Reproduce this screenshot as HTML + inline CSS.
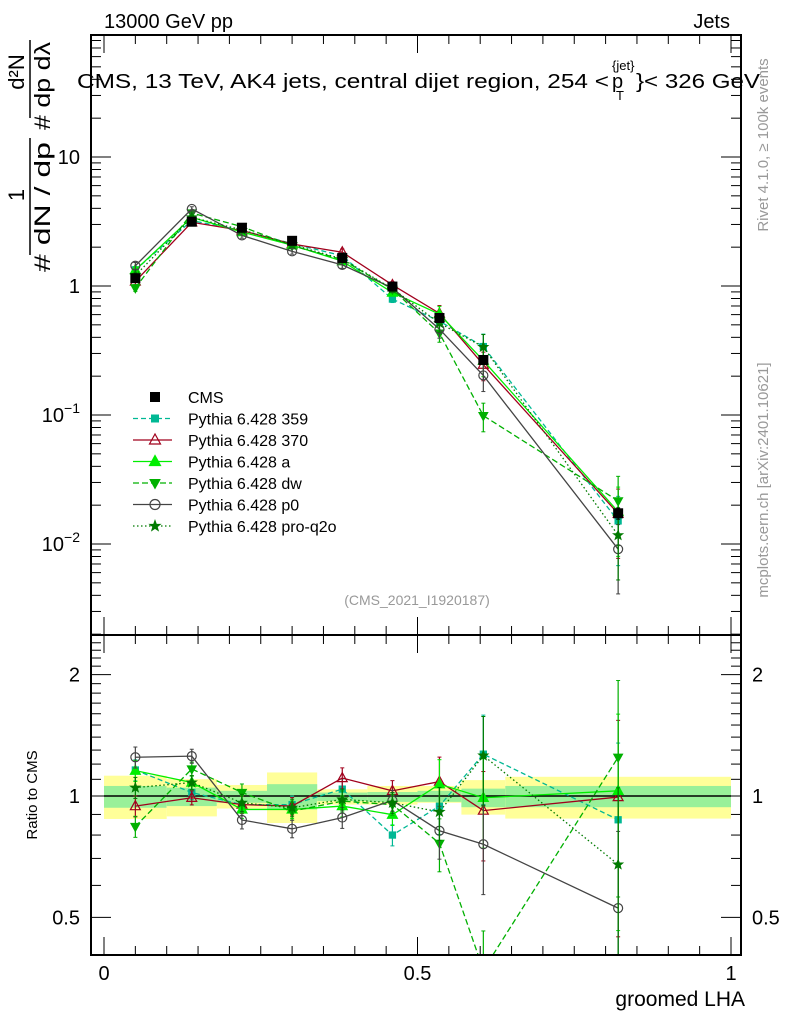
<!DOCTYPE html>
<html><head><meta charset="utf-8"><style>
body{margin:0;background:#fff;width:786px;height:1024px;overflow:hidden}
svg{display:block;font-family:"Liberation Sans",sans-serif}
</style></head><body>
<svg id="c" width="786" height="1024" viewBox="0 0 786 1024"></svg>
<script>
const xs=[0.05,0.14,0.22,0.30,0.38,0.46,0.535,0.605,0.82];
const binLo=[0,0.1,0.18,0.26,0.34,0.42,0.5,0.57,0.64];
const binHi=[0.1,0.18,0.26,0.34,0.42,0.5,0.57,0.64,1.0];
const cms=[1.15,3.15,2.83,2.24,1.65,0.99,0.565,0.267,0.0173];
const cmsErr=[0.06,0.05,0.04,0.06,0.03,0.03,0.04,0.07,0.10];
const yelHi=[1.123,1.101,1.065,1.144,1.039,1.059,1.059,1.095,1.116];
const yelLo=[0.877,0.890,0.931,0.857,0.952,0.952,0.962,0.899,0.879];
const grnHi=[1.059,1.049,1.030,1.070,1.020,1.023,1.030,1.043,1.059];
const grnLo=[0.935,0.944,0.962,0.926,0.971,0.967,0.967,0.938,0.938];
const r359=[1.16,1.02,0.952,0.952,1.04,0.80,0.944,1.27,0.873];
const r370=[0.944,0.99,0.952,0.944,1.108,1.03,1.086,0.92,0.994];
const rA=[1.156,1.08,0.926,0.926,0.944,0.899,1.07,0.99,1.03];
const rDW=[0.84,1.167,1.02,0.917,0.971,0.952,0.763,0.37,1.248];
const rP0=[1.248,1.256,0.872,0.829,0.884,0.975,0.820,0.759,0.527];
const rQ2O=[1.049,1.08,0.962,0.935,0.981,0.962,0.913,1.26,0.676];
const modelErr=[0.06,0.04,0.05,0.05,0.06,0.06,0.15,0.25,0.55];
const series=[
 {name:"Pythia 6.428 359",r:r359,col:"#00b894",dash:"5,3",mk:"sq",fill:true,id:"pythia-359"},
 {name:"Pythia 6.428 370",r:r370,col:"#a0001c",dash:"",mk:"tri",fill:false,id:"pythia-370"},
 {name:"Pythia 6.428 a",r:rA,col:"#00ee00",dash:"",mk:"tri",fill:true,id:"pythia-a"},
 {name:"Pythia 6.428 dw",r:rDW,col:"#00b000",dash:"6,3",mk:"dtri",fill:true,id:"pythia-dw"},
 {name:"Pythia 6.428 p0",r:rP0,col:"#444",dash:"",mk:"circ",fill:false,id:"pythia-p0"},
 {name:"Pythia 6.428 pro-q2o",r:rQ2O,col:"#007a00",dash:"1.5,2.5",mk:"star",fill:true,id:"pythia-pro-q2o"}
];
const NS="http://www.w3.org/2000/svg",svg=document.getElementById('c');
function el(t,a,p){const e=document.createElementNS(NS,t);for(const k in a)e.setAttribute(k,a[k]);(p||svg).appendChild(e);return e;}
const X=v=>104+627*v;
const Y=v=>286-129*Math.log10(v);
const R=r=>796-403*Math.log10(r);
const L=91,Rt=741;
const defs=el('defs',{});
const c1=el('clipPath',{id:'cm'},defs);el('rect',{x:L,y:35,width:650,height:600},c1);
const c2=el('clipPath',{id:'cr'},defs);el('rect',{x:L,y:635,width:650,height:320},c2);
const gM=el('g',{'clip-path':'url(#cm)'});
const gR=el('g',{'clip-path':'url(#cr)'});
for(let i=0;i<xs.length;i++){
 const b=el('rect',{x:X(binLo[i]),y:R(yelHi[i]),width:X(binHi[i])-X(binLo[i]),height:R(yelLo[i])-R(yelHi[i]),fill:'#ffff99'},gR);
 
 const g=el('rect',{x:X(binLo[i]),y:R(grnHi[i]),width:X(binHi[i])-X(binLo[i]),height:R(grnLo[i])-R(grnHi[i]),fill:'#99f099'},gR);
 
}
el('line',{x1:X(0),x2:X(1),y1:R(1),y2:R(1),stroke:'#000','stroke-width':1.5},gR);
function marker(p,x,y,s,size){
 const z=size||4.5;let e;
 const f=s.fill?s.col:'none',st=s.col;
 if(s.mk=='sq')e=el('rect',{x:x-z*0.7,y:y-z*0.7,width:z*1.4,height:z*1.4,fill:f,stroke:st},p);
 else if(s.mk=='tri')e=el('polygon',{points:`${x},${y-z*1.2} ${x-z*1.1},${y+z*0.8} ${x+z*1.1},${y+z*0.8}`,fill:f,stroke:st,'stroke-width':1.2},p);
 else if(s.mk=='dtri')e=el('polygon',{points:`${x},${y+z*1.1} ${x-z},${y-z*0.7} ${x+z},${y-z*0.7}`,fill:f,stroke:st},p);
 else if(s.mk=='circ')e=el('circle',{cx:x,cy:y,r:z,fill:'none',stroke:st,'stroke-width':1.2},p);
 else {let pts=[];for(let k=0;k<10;k++){const a=-Math.PI/2+k*Math.PI/5,rr=k%2?z*0.45:z*1.1;pts.push((x+rr*Math.cos(a)).toFixed(1)+','+(y+rr*Math.sin(a)).toFixed(1));}
  e=el('polygon',{points:pts.join(' '),fill:f,stroke:st},p);}
 
 
}
function errbar(p,x,y1,y2,col){el('line',{x1:x,x2:x,y1:y1,y2:y2,stroke:col,'stroke-width':1.2},p);
 el('line',{x1:x-2,x2:x+2,y1:y1,y2:y1,stroke:col},p);el('line',{x1:x-2,x2:x+2,y1:y2,y2:y2,stroke:col},p);}
series.forEach(s=>{
 const g1=el('g',{},gM);
 const g2=el('g',{},gR);
 const vals=s.r.map((r,i)=>r*cms[i]);
 el('polyline',{points:xs.map((x,i)=>X(x)+','+Y(vals[i])).join(' '),fill:'none',stroke:s.col,'stroke-width':1.3,'stroke-dasharray':s.dash},g1);
 el('polyline',{points:xs.map((x,i)=>X(x)+','+R(s.r[i])).join(' '),fill:'none',stroke:s.col,'stroke-width':1.3,'stroke-dasharray':s.dash},g2);
 xs.forEach((x,i)=>{
  const e=modelErr[i];
  errbar(g1,X(x),Y(vals[i]*(1+e)),Y(vals[i]*Math.max(1-e,0.05)),s.col);
  errbar(g2,X(x),R(s.r[i]*(1+e)),R(s.r[i]*Math.max(1-e,0.05)),s.col);
  marker(g1,X(x),Y(vals[i]),s);marker(g2,X(x),R(s.r[i]),s);
 });
});
const gC=el('g',{},gM);
xs.forEach((x,i)=>{errbar(gC,X(x),Y(cms[i]*(1+cmsErr[i])),Y(cms[i]*(1-cmsErr[i])),'#000');
 const m=el('rect',{x:X(x)-5,y:Y(cms[i])-5,width:10,height:10,fill:'#000'},gC);
 });
el('rect',{x:L,y:35,width:650,height:600,fill:'none',stroke:'#000','stroke-width':2});
el('rect',{x:L,y:635,width:650,height:320,fill:'none',stroke:'#000','stroke-width':2});
for(let k=0;k<=20;k++){const v=k*0.05,x=X(v),big=k%10==0,len=big?18:9;
 [[35,1],[635,-1],[635,1],[955,-1]].forEach(([y,d])=>el('line',{x1:x,x2:x,y1:y,y2:y+d*len,stroke:'#000'}));}
const xt=[0,0.5,1],xl=["0","0.5","1"];
xt.forEach((v,i)=>{const t=el('text',{x:X(v),y:980,'font-size':20,'text-anchor':'middle'});t.textContent=xl[i];});
for(let d=-3;d<=1;d++)for(let m=1;m<=9;m++){const v=m*Math.pow(10,d),y=Y(v);if(y<35||y>635)continue;const len=m==1?20:10;
 el('line',{x1:L,x2:L+len,y1:y,y2:y,stroke:'#000'});el('line',{x1:Rt,x2:Rt-len,y1:y,y2:y,stroke:'#000'});}
const ytv=[10,1,0.1,0.01];
ytv.forEach(v=>{const t=el('text',{x:80,y:Y(v)+7,'font-size':20,'text-anchor':'end'});
 
 if(v>=1)t.textContent=String(v);else{t.textContent='10';const s=el('tspan',{dy:-9,'font-size':14},t);s.textContent=String(Math.log10(v)).replace('-','\u2212');}});
for(let m=4;m<=25;m++){const r=m/10,y=R(r);if(y<636||y>954)continue;const big=(r==0.5||r==1||r==2);const len=big?20:10;
 el('line',{x1:L,x2:L+len,y1:y,y2:y,stroke:'#000'});el('line',{x1:Rt,x2:Rt-len,y1:y,y2:y,stroke:'#000'});}
const rtv=[2,1,0.5],rtl=["2","1","0.5"];
rtv.forEach((r,i)=>{[[80,'end'],[752,'start']].forEach(([x,a])=>{const t=el('text',{x:x,y:R(r)+7,'font-size':20,'text-anchor':a});t.textContent=rtl[i];});});
function txt(s,a,name){const t=el('text',a);t.textContent=s;return t;}
txt('13000 GeV pp',{x:104,y:28,'font-size':20},'collision-label');
txt('Jets',{x:730,y:28,'font-size':20,'text-anchor':'end'},'process-label');
txt('CMS, 13 TeV, AK4 jets, central dijet region, 254 <',{x:77,y:88,'font-size':20,textLength:532,lengthAdjust:'spacingAndGlyphs'},'plot-title');
txt('p',{x:612,y:88,'font-size':20},'title-pt');txt('T',{x:616,y:100,'font-size':13},'title-pt-sub');txt('{jet}',{x:612,y:70,'font-size':13},'title-pt-sup');
txt('}< 326 GeV',{x:636,y:88,'font-size':20,textLength:124,lengthAdjust:'spacingAndGlyphs'},'title-end');
txt('(CMS_2021_I1920187)',{x:417,y:605,'font-size':14,fill:'#999','text-anchor':'middle'},'analysis-id');
txt('groomed LHA',{x:745,y:1006,'font-size':21,'text-anchor':'end'},'x-axis-title');
txt('Ratio to CMS',{x:0,y:0,'font-size':15,'text-anchor':'middle',transform:'translate(37,795) rotate(-90)'},'ratio-axis-title');
// y-axis title (fraction layout)
txt('# dN / dp',{x:0,y:0,'font-size':22,transform:'translate(50,272) rotate(-90)',textLength:130,lengthAdjust:'spacingAndGlyphs'},'y-axis-title-denominator');
txt('# dp   dλ',{x:0,y:0,'font-size':22,transform:'translate(50,130) rotate(-90)',textLength:88,lengthAdjust:'spacingAndGlyphs'},'y-axis-title-denominator-2');
txt('1',{x:0,y:0,'font-size':22,'text-anchor':'middle',transform:'translate(24,195) rotate(-90)'},'y-axis-title-numerator');
txt('d²N',{x:0,y:0,'font-size':22,'text-anchor':'middle',transform:'translate(24,72) rotate(-90)'},'y-axis-title-numerator-2');
el('line',{x1:30,x2:30,y1:138,y2:255,stroke:'#000','stroke-width':1.5});
el('line',{x1:30,x2:30,y1:40,y2:118,stroke:'#000','stroke-width':1.5});
txt('Rivet 4.1.0, \u2265 100k events',{x:0,y:0,'font-size':15,fill:'#999','text-anchor':'middle',transform:'translate(768,145) rotate(-90)'},'rivet-label');
txt('mcplots.cern.ch [arXiv:2401.10621]',{x:0,y:0,'font-size':15,fill:'#999','text-anchor':'middle',transform:'translate(768,480) rotate(-90)'},'mcplots-label');
const gL=el('g',{});
const ly0=397,ldy=21.5;
const lc=el('rect',{x:150,y:ly0-5,width:10,height:10,fill:'#000'},gL);
txt('CMS',{x:188,y:ly0+6,'font-size':16},'legend-entry');
series.forEach((s,i)=>{const y=ly0+ldy*(i+1);
 el('line',{x1:133,x2:172,y1:y,y2:y,stroke:s.col,'stroke-width':1.3,'stroke-dasharray':s.dash},gL);
 marker(gL,155,y,s,5);
 txt(s.name,{x:188,y:y+6,'font-size':16},'legend-entry');});
</script>
</body></html>
